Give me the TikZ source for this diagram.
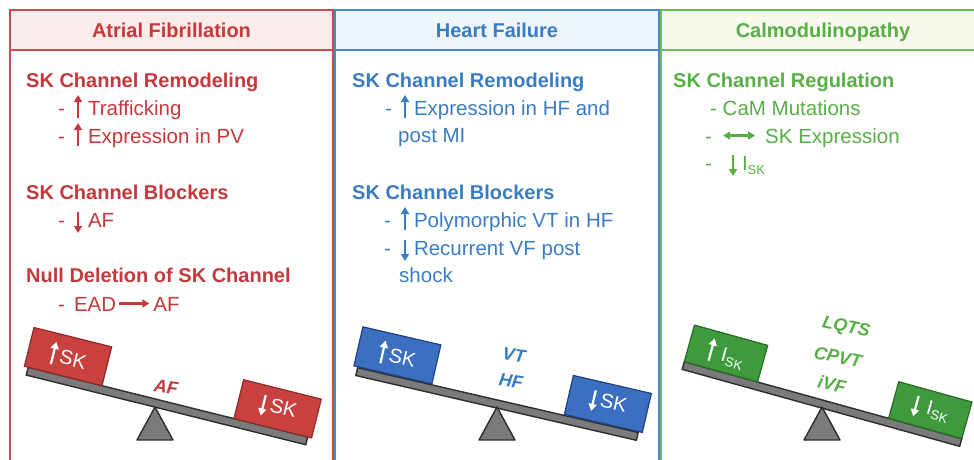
\documentclass[tikz,border=0pt]{standalone}
\usepackage{fontspec}
\setmainfont{Liberation Sans}
\usetikzlibrary{arrows.meta}
\usetikzlibrary{calc}

\definecolor{afred}{HTML}{C4393B}
\definecolor{afline}{HTML}{CF4A4C}
\definecolor{afhead}{HTML}{FCEBEB}
\definecolor{afbox}{HTML}{C9413F}
\definecolor{afboxline}{HTML}{8E2A2A}
\definecolor{hfblue}{HTML}{3A7CC4}
\definecolor{hfline}{HTML}{4A88C9}
\definecolor{hfhead}{HTML}{EEF6FC}
\definecolor{hfbox}{HTML}{3C6FC0}
\definecolor{hfboxline}{HTML}{1F4380}
\definecolor{cmgreen}{HTML}{58AF46}
\definecolor{cmline}{HTML}{6BBB55}
\definecolor{cmhead}{HTML}{F7FAEC}
\definecolor{cmbox}{HTML}{3F9A3D}
\definecolor{cmboxline}{HTML}{276B27}
\definecolor{beamgrey}{HTML}{7B7B7B}
\definecolor{beamedge}{HTML}{2E2E2E}

% small arrows inside the text lines
\newcommand{\uptick}{\tikz[baseline=0pt]\draw[line width=2.2pt,-{Triangle[length=7pt,width=8pt]}] (0pt,-3pt) -- (0pt,20pt);}
\newcommand{\downtick}{\tikz[baseline=0pt]\draw[line width=2.2pt,-{Triangle[length=7pt,width=8pt]}] (0pt,15pt) -- (0pt,-6pt);}
\newcommand{\righttick}{\tikz[baseline=0pt]\draw[line width=2.2pt,-{Triangle[length=7pt,width=8pt]}] (0pt,7.5pt) -- (30pt,7.5pt);}
\newcommand{\bothtick}{\tikz[baseline=0pt]\draw[line width=2.2pt,{Triangle[length=7pt,width=8pt]}-{Triangle[length=7pt,width=8pt]}] (0pt,7.5pt) -- (32pt,7.5pt);}
\newcommand{\isk}{I\raisebox{-4pt}{\fontsize{13}{13}\selectfont SK}}

\begin{document}
\begin{tikzpicture}[x=1pt,y=-1pt,
    paneltitle/.style={anchor=base,inner sep=0pt,font=\fontsize{20}{24}\selectfont\bfseries},
    grouphead/.style={anchor=base west,inner sep=0pt,font=\fontsize{20}{24}\selectfont\bfseries},
    itemline/.style={anchor=base west,inner sep=0pt,font=\fontsize{20.5}{24}\selectfont},
    beambar/.style={draw=beamedge,fill=beamgrey,line width=1.4pt,minimum width=288,minimum height=8,inner sep=0pt},
    weightbox/.style={draw,line width=1.2pt,minimum width=80,minimum height=40,inner sep=0pt,text=white,font=\fontsize{20}{24}\selectfont},
    balancelabel/.style={inner sep=0pt,font=\fontsize{18}{21}\selectfont\bfseries\itshape},
    fulcrum/.style={draw=beamedge,fill=beamgrey,line width=1.4pt,line join=round},
    panelframe/.style={line width=1.8pt}]
    \newcommand{\panelhead}{50}
    \newcommand{\panelfoot}{470}
    \useasboundingbox (0,0) rectangle (974,459);

    % panels
    \fill[afhead] (10,10) rectangle (333,\panelhead);
    \draw[panelframe,afline] (10,\panelfoot) -- (10,10) -- (333,10) -- (333,\panelfoot);
    \draw[panelframe,afline] (10,\panelhead) -- (333,\panelhead);
    \fill[hfhead] (335,10) rectangle (659,\panelhead);
    \draw[panelframe,hfline] (335,\panelfoot) -- (335,10) -- (659,10) -- (659,\panelfoot);
    \draw[panelframe,hfline] (335,\panelhead) -- (659,\panelhead);
    \fill[cmhead] (661,10) rectangle (990,\panelhead);
    \draw[panelframe,cmline] (661,\panelfoot) -- (661,10) -- (990,10);
    \draw[panelframe,cmline] (661,\panelhead) -- (990,\panelhead);

    \node[paneltitle,text=afred] (aftitle) at (171.5,37) {Atrial Fibrillation};
    \node[paneltitle,text=hfblue] (hftitle) at (497,37) {Heart Failure};
    \node[paneltitle,text=cmgreen] (cmtitle) at (823,37) {Calmodulinopathy};

    % atrial fibrillation text
    \node[grouphead,text=afred] (afremodel) at (26,87) {SK Channel Remodeling};
    \node[itemline,text=afred] (aftraffic) at (58,115) {-\hspace{9pt}\uptick\hspace{6pt}Trafficking};
    \node[itemline,text=afred] (afpv) at (58,143) {-\hspace{9pt}\uptick\hspace{6pt}Expression in PV};
    \node[grouphead,text=afred] (afblock) at (26,199) {SK Channel Blockers};
    \node[itemline,text=afred] (afless) at (58,227) {-\hspace{9pt}\downtick\hspace{6pt}AF};
    \node[grouphead,text=afred] (afnull) at (26,282) {Null Deletion of SK Channel};
    \node[itemline,text=afred] (afead) at (58,311) {-\hspace{9pt}EAD\hspace{2pt}\righttick\hspace{3pt}AF};

    % heart failure text
    \node[grouphead,text=hfblue] (hfremodel) at (352,87) {SK Channel Remodeling};
    \node[itemline,text=hfblue] (hfexpr) at (385,115) {-\hspace{9pt}\uptick\hspace{5pt}Expression in HF and};
    \node[itemline,text=hfblue] (hfpost) at (398,142) {post MI};
    \node[grouphead,text=hfblue] (hfblock) at (352,199) {SK Channel Blockers};
    \node[itemline,text=hfblue] (hfpoly) at (384,227) {-\hspace{10pt}\uptick\hspace{5pt}Polymorphic VT in HF};
    \node[itemline,text=hfblue] (hfrecur) at (384,255) {-\hspace{10pt}\downtick\hspace{5pt}Recurrent VF post};
    \node[itemline,text=hfblue] (hfshock) at (399,282) {shock};

    % calmodulinopathy text
    \node[grouphead,text=cmgreen] (cmreg) at (673,87) {SK Channel Regulation};
    \node[itemline,text=cmgreen] (cmcam) at (710,115) {- CaM Mutations};
    \node[itemline,text=cmgreen] (cmexpr) at (705,143) {-\hspace{10pt}\bothtick\hspace{9pt}SK Expression};
    \node[itemline,text=cmgreen] (cmisk) at (705,170) {-\hspace{17pt}\downtick\hspace{5pt}\isk};

    % atrial fibrillation balance
    \begin{scope}[shift={(167,406)},rotate=-14,transform shape]
        \node[beambar] (afbeam) at (0,0) {};
        \node[weightbox,fill=afbox,draw=afboxline] (afup) at (-108,-24) {\uptick\hspace{3pt}SK};
        \node[weightbox,fill=afbox,draw=afboxline] (afdown) at (108,-24) {\downtick\hspace{3pt}SK};
    \end{scope}
    \draw[fulcrum] (155,407) -- (137,440) -- (173,440) -- cycle;
    \node[balancelabel,text=afred,rotate=-8] (afmid) at (166,387) {AF};

    % heart failure balance
    \begin{scope}[shift={(497,404)},rotate=-13,transform shape]
        \node[beambar] (hfbeam) at (0,0) {};
        \node[weightbox,fill=hfbox,draw=hfboxline] (hfup) at (-108,-25) {\uptick\hspace{3pt}SK};
        \node[weightbox,fill=hfbox,draw=hfboxline] (hfdown) at (108,-25) {\downtick\hspace{3pt}SK};
    \end{scope}
    \draw[fulcrum] (497,407) -- (479,440) -- (515,440) -- cycle;
    \node[balancelabel,text=hfblue,rotate=-8] (hfvt) at (514,355) {VT};
    \node[balancelabel,text=hfblue,rotate=-8] (hfhf) at (511,381) {HF};

    % calmodulinopathy balance
    \begin{scope}[shift={(822,404)},rotate=-15.5,transform shape]
        \node[beambar] (cmbeam) at (0,0) {};
        \node[weightbox,fill=cmbox,draw=cmboxline,minimum width=76,minimum height=38] (cmup) at (-106,-23) {\uptick\hspace{7pt}\isk};
        \node[weightbox,fill=cmbox,draw=cmboxline,minimum width=76,minimum height=38] (cmdown) at (106,-23) {\downtick\hspace{7pt}\isk};
    \end{scope}
    \draw[fulcrum] (822,407) -- (804,440) -- (840,440) -- cycle;
    \node[balancelabel,text=cmgreen,rotate=-12] (cmlqts) at (846,328) {LQTS};
    \node[balancelabel,text=cmgreen,rotate=-12] (cmcpvt) at (838,357) {CPVT};
    \node[balancelabel,text=cmgreen,rotate=-12] (cmivf) at (832,384) {iVF};
\end{tikzpicture}
\end{document}
